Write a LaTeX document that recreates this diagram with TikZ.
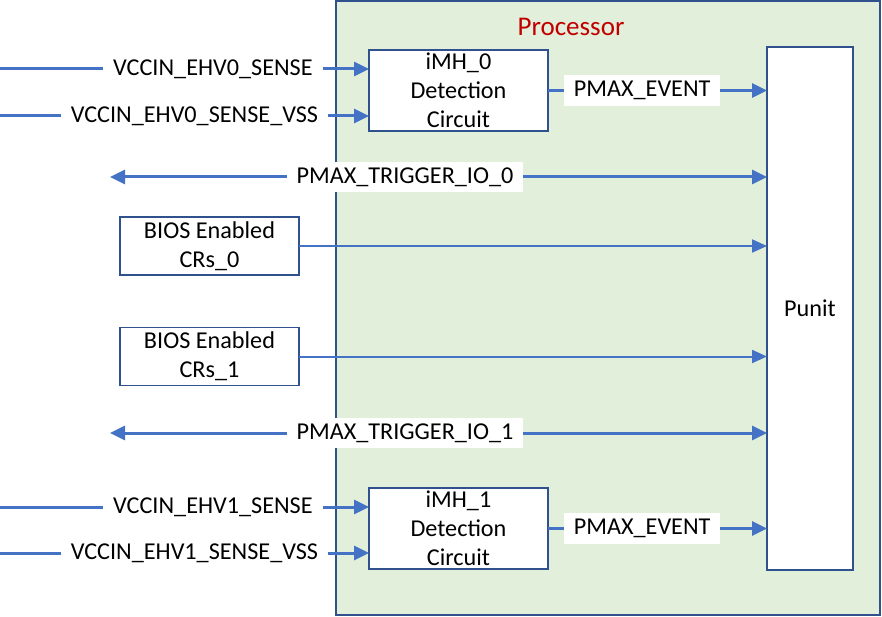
\documentclass[tikz,border=0pt]{standalone}
\usepackage{fontspec}
\setmainfont{Carlito}
\usetikzlibrary{arrows.meta}
\definecolor{lblue}{HTML}{4472C4}
\definecolor{dblue}{HTML}{2F528F}
\definecolor{pgreen}{HTML}{E2EFDA}
\definecolor{pred}{HTML}{C00000}
\begin{document}
\begin{tikzpicture}[x=1pt,y=-1pt, font=\fontsize{24.2}{29}\selectfont,
  box/.style={draw=dblue, line width=1.3pt, fill=white, inner sep=0pt, align=center, outer sep=0pt},
  wire/.style={draw=lblue, line width=3pt, -{Triangle[length=15pt,width=14pt]}},
  thinwire/.style={draw=lblue, line width=2pt, -{Triangle[length=15pt,width=13pt]}},
  biwire/.style={draw=lblue, line width=3pt, {Triangle[length=15pt,width=14pt]}-{Triangle[length=15pt,width=14pt]}},
  lbl/.style={fill=white, inner xsep=10pt, inner ysep=6pt, text=black}]
\useasboundingbox (0,0) rectangle (882,617);
% processor
\node[draw=dblue, line width=1.3pt, fill=pgreen, minimum width=544pt, minimum height=614pt, inner sep=0pt, outer sep=0pt, anchor=north west] (proc) at (336,1) {};
\node[text=pred, font=\fontsize{27}{32}\selectfont] (ptitle) at (571,27) {Processor};
% blocks
\node[box, minimum width=179pt, minimum height=81pt] (imh0) at (458.5,90.5) {iMH\_0\\Detection\\Circuit};
\node[box, minimum width=179pt, minimum height=81pt] (imh1) at (458.5,528.5) {iMH\_1\\Detection\\Circuit};
\node[box, minimum width=86pt, minimum height=523pt] (punit) at (810,308.5) {Punit};
\node[box, minimum width=179pt, minimum height=58pt] (bios0) at (209.5,246) {BIOS Enabled\\CRs\_0};
\node[box, minimum width=179pt, minimum height=58pt] (bios1) at (209.5,356.5) {BIOS Enabled\\CRs\_1};
% coordinates
\coordinate (in0a) at (0,69);
\coordinate (in0b) at (0,116);
\coordinate (in1a) at (0,507);
\coordinate (in1b) at (0,553);
\coordinate (trig0) at (110,177);
\coordinate (trig1) at (110,433);
% inputs
\draw[wire] (in0a) -- node[lbl, pos=0.577] (l0a) {VCCIN\_EHV0\_SENSE} (imh0.west |- in0a);
\draw[wire] (in0b) -- node[lbl, pos=0.527] (l0b) {VCCIN\_EHV0\_SENSE\_VSS} (imh0.west |- in0b);
\draw[wire] (in1a) -- node[lbl, pos=0.577] (l1a) {VCCIN\_EHV1\_SENSE} (imh1.west |- in1a);
\draw[wire] (in1b) -- node[lbl, pos=0.527] (l1b) {VCCIN\_EHV1\_SENSE\_VSS} (imh1.west |- in1b);
% events
\draw[wire] (imh0.east) -- node[lbl, pos=0.43] (e0) {PMAX\_EVENT} (punit.west |- imh0.east);
\draw[wire] (imh1.east) -- node[lbl, pos=0.43] (e1) {PMAX\_EVENT} (punit.west |- imh1.east);
% triggers
\draw[biwire] (trig0) -- node[lbl, pos=0.449] (t0) {PMAX\_TRIGGER\_IO\_0} (punit.west |- trig0);
\draw[biwire] (trig1) -- node[lbl, pos=0.449] (t1) {PMAX\_TRIGGER\_IO\_1} (punit.west |- trig1);
% bios
\draw[thinwire] (bios0.east) -- (punit.west |- bios0.east);
\draw[thinwire] (bios1.east) -- (punit.west |- bios1.east);
\end{tikzpicture}
\end{document}
